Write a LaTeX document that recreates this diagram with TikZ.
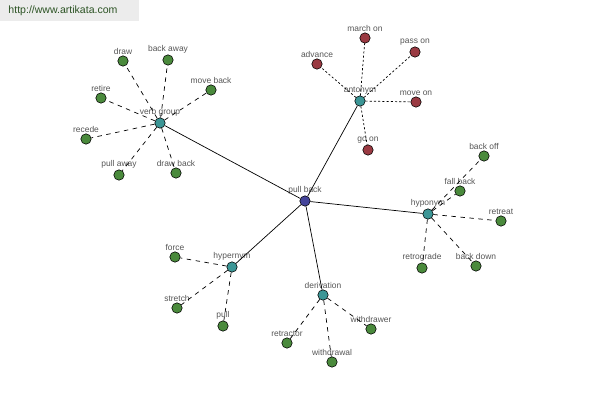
\documentclass[tikz,border=0pt]{standalone}
\usepackage{fontspec}
\setmainfont{Liberation Sans}
\definecolor{leafgreen}{HTML}{4A8A3C}
\definecolor{hubteal}{HTML}{3C9696}
\definecolor{antired}{HTML}{9A3A42}
\definecolor{rootblue}{HTML}{44449A}
\definecolor{txtgray}{HTML}{555555}
\begin{document}
\begin{tikzpicture}[x=0.025cm,y=-0.025cm,
  dot/.style={circle,draw=black,line width=0.4pt,minimum size=0.26cm,inner sep=0pt},
  leaf/.style={dot,fill=leafgreen},
  anti/.style={dot,fill=antired},
  hub/.style={dot,fill=hubteal},
  root/.style={dot,fill=rootblue},
  lbl/.style={text=txtgray,font=\fontsize{6}{7}\selectfont,inner sep=0.5pt},
  link/.style={line width=0.5pt},
  rel/.style={line width=0.5pt,dash pattern=on 3.2pt off 3.2pt},
  relshort/.style={line width=0.5pt,dash pattern=on 1.5pt off 1.5pt}]
  \useasboundingbox (0,0) rectangle (600,400);
  % watermark
  \fill[gray!15] (0,0) rectangle (139,21);
  \node[text=leafgreen!60!black,font=\fontsize{7.5}{9}\selectfont] (site) at (63,11) {http://www.artikata.com};

  % centre and relation hubs
  \node[root,label={[lbl]above:pull back}] (pullback) at (305,201) {};
  \node[hub,label={[lbl]above:verb group}] (verbgroup) at (160,123) {};
  \node[hub,label={[lbl]above:antonym}] (antonym) at (360,101) {};
  \node[hub,label={[lbl]above:hyponym}] (hyponym) at (428,214) {};
  \node[hub,label={[lbl]above:hypernym}] (hypernym) at (232,267) {};
  \node[hub,label={[lbl]above:derivation}] (derivation) at (323,295) {};
  \foreach \h in {verbgroup,antonym,hyponym,hypernym,derivation}
    \draw[link] (pullback) -- (\h);

  % verb group
  \node[leaf,label={[lbl]above:draw}] (draw) at (123,61) {};
  \node[leaf,label={[lbl]above:back away}] (backaway) at (168,60) {};
  \node[leaf,label={[lbl]above:move back}] (moveback) at (211,90) {};
  \node[leaf,label={[lbl]above:retire}] (retire) at (101,98) {};
  \node[leaf,label={[lbl]above:recede}] (recede) at (86,139) {};
  \node[leaf,label={[lbl]above:pull away}] (pullaway) at (119,175) {};
  \node[leaf,label={[lbl]above:draw back}] (drawback) at (176,173) {};
  \foreach \n in {draw,backaway,moveback,retire,recede,pullaway,drawback}
    \draw[rel] (verbgroup) -- (\n);

  % antonym
  \node[anti,label={[lbl]above:march on}] (marchon) at (365,38) {};
  \node[anti,label={[lbl]above:advance}] (advance) at (317,64) {};
  \node[anti,label={[lbl]above:pass on}] (passon) at (415,52) {};
  \node[anti,label={[lbl]above:move on}] (moveon) at (416,102) {};
  \node[anti,label={[lbl]above:go on}] (goon) at (368,150) {};
  \foreach \n in {marchon,advance,passon,moveon,goon}
    \draw[relshort] (antonym) -- (\n);

  % hyponym
  \node[leaf,label={[lbl]above:back off}] (backoff) at (484,156) {};
  \node[leaf,label={[lbl]above:fall back}] (fallback) at (460,191) {};
  \node[leaf,label={[lbl]above:retreat}] (retreat) at (501,221) {};
  \node[leaf,label={[lbl]above:retrograde}] (retrograde) at (422,268) {};
  \node[leaf,label={[lbl]above:back down}] (backdown) at (476,266) {};
  \foreach \n in {backoff,fallback,retreat,retrograde,backdown}
    \draw[rel] (hyponym) -- (\n);

  % hypernym
  \node[leaf,label={[lbl]above:force}] (force) at (175,257) {};
  \node[leaf,label={[lbl]above:stretch}] (stretch) at (177,308) {};
  \node[leaf,label={[lbl]above:pull}] (pull) at (223,326) {};
  \foreach \n in {force,stretch,pull}
    \draw[rel] (hypernym) -- (\n);

  % derivation
  \node[leaf,label={[lbl]above:retractor}] (retractor) at (287,343) {};
  \node[leaf,label={[lbl]above:withdrawal}] (withdrawal) at (332,362) {};
  \node[leaf,label={[lbl]above:withdrawer}] (withdrawer) at (371,329) {};
  \foreach \n in {retractor,withdrawal,withdrawer}
    \draw[rel] (derivation) -- (\n);
\end{tikzpicture}
\end{document}
